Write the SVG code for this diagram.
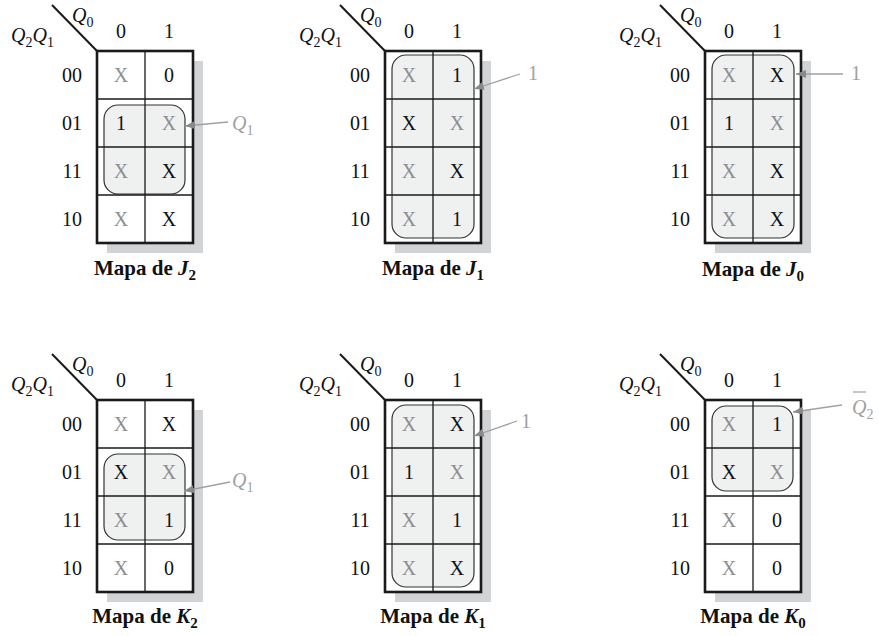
<svg xmlns="http://www.w3.org/2000/svg" width="879" height="636" viewBox="0 0 879 636">
<defs>
<style>
text{font-family:"Liberation Serif","Times New Roman",serif;}
.t{font-size:20px;fill:#111;}
.c{font-size:20px;text-anchor:middle;fill:#111;}
.g{fill:#8e8e8e;}
.i{font-style:italic;}
.title{font-size:21px;font-weight:bold;text-anchor:middle;fill:#111;}
.shadow{fill:#d2d3d5;}
.grid{fill:#fff;stroke:none;}
.border{fill:none;stroke:#1a1a1a;stroke-width:2.6;}
.line{stroke:#1a1a1a;stroke-width:1.3;fill:none;}
.diag{stroke:#1a1a1a;stroke-width:2;}
.loop{fill:#eff0f0;stroke:#333;stroke-width:1.2;}
.arr{stroke:#a0a0a0;stroke-width:1.3;fill:none;marker-end:url(#ah);}
.al{font-size:20px;fill:#a0a0a0;}
</style>
<marker id="ah" viewBox="0 0 10 8" refX="10" refY="4" markerWidth="10" markerHeight="8" markerUnits="userSpaceOnUse" orient="auto">
<path d="M0,0 L10,4 L0,8 Z" fill="#8a8a8a"/>
</marker>
<g id="frame">
<path class="diag" d="M-45,-46 L0,0"/>
<text class="t" x="-25" y="-29"><tspan class="i">Q</tspan><tspan dy="5" font-size="14">0</tspan></text>
<text class="t" x="-86" y="-9"><tspan class="i">Q</tspan><tspan dy="5" font-size="14">2</tspan><tspan dy="-5" class="i">Q</tspan><tspan dy="5" font-size="14">1</tspan></text>
<text class="c" x="24" y="-13">0</text>
<text class="c" x="72" y="-13">1</text>
<text class="c" x="-25" y="31">00</text>
<text class="c" x="-25" y="79">01</text>
<text class="c" x="-25" y="127">11</text>
<text class="c" x="-25" y="175">10</text>
</g>
<g id="back">
<rect class="shadow" x="10" y="10" width="96" height="192"/>
<rect class="grid" x="0" y="0" width="96" height="192"/>
</g>
<g id="lines">
<path class="line" d="M48,0 V192 M0,48 H96 M0,96 H96 M0,144 H96"/>
<rect class="border" x="0" y="0" width="96" height="192"/>
</g>
</defs>

<g id="map-J2" transform="translate(97,51)">
<use href="#back"/>
<rect class="loop" x="7" y="54" width="81" height="89" rx="14"/>
<use href="#lines"/>
<use href="#frame"/>
<text class="c g" x="24" y="31">X</text><text class="c" x="72" y="31">0</text>
<text class="c" x="24" y="79">1</text><text class="c g" x="72" y="79">X</text>
<text class="c g" x="24" y="127">X</text><text class="c" x="72" y="127">X</text>
<text class="c g" x="24" y="175">X</text><text class="c" x="72" y="175">X</text>
<text class="title" x="48" y="224">Mapa de <tspan class="i">J</tspan><tspan dy="5" font-size="15">2</tspan></text>
</g>

<g id="map-J1" transform="translate(385,51)">
<use href="#back"/>
<rect class="loop" x="7" y="4" width="82" height="183" rx="14"/>
<use href="#lines"/>
<use href="#frame"/>
<text class="c g" x="24" y="31">X</text><text class="c" x="72" y="31">1</text>
<text class="c" x="24" y="79">X</text><text class="c g" x="72" y="79">X</text>
<text class="c g" x="24" y="127">X</text><text class="c" x="72" y="127">X</text>
<text class="c g" x="24" y="175">X</text><text class="c" x="72" y="175">1</text>
<text class="title" x="48" y="224">Mapa de <tspan class="i">J</tspan><tspan dy="5" font-size="15">1</tspan></text>
</g>

<g id="map-J0" transform="translate(705,51)">
<use href="#back"/>
<rect class="loop" x="7" y="4" width="82" height="183" rx="14"/>
<use href="#lines"/>
<use href="#frame"/>
<text class="c g" x="24" y="31">X</text><text class="c" x="72" y="31">X</text>
<text class="c" x="24" y="79">1</text><text class="c g" x="72" y="79">X</text>
<text class="c g" x="24" y="127">X</text><text class="c" x="72" y="127">X</text>
<text class="c g" x="24" y="175">X</text><text class="c" x="72" y="175">X</text>
<text class="title" x="48" y="225">Mapa de <tspan class="i">J</tspan><tspan dy="5" font-size="15">0</tspan></text>
</g>

<g id="map-K2" transform="translate(97,400)">
<use href="#back"/>
<rect class="loop" x="7" y="54" width="81" height="86" rx="14"/>
<use href="#lines"/>
<use href="#frame"/>
<text class="c g" x="24" y="31">X</text><text class="c" x="72" y="31">X</text>
<text class="c" x="24" y="79">X</text><text class="c g" x="72" y="79">X</text>
<text class="c g" x="24" y="127">X</text><text class="c" x="72" y="127">1</text>
<text class="c g" x="24" y="175">X</text><text class="c" x="72" y="175">0</text>
<text class="title" x="48" y="223">Mapa de <tspan class="i">K</tspan><tspan dy="5" font-size="15">2</tspan></text>
</g>

<g id="map-K1" transform="translate(385,400)">
<use href="#back"/>
<rect class="loop" x="7" y="5" width="82" height="182" rx="14"/>
<use href="#lines"/>
<use href="#frame"/>
<text class="c g" x="24" y="31">X</text><text class="c" x="72" y="31">X</text>
<text class="c" x="24" y="79">1</text><text class="c g" x="72" y="79">X</text>
<text class="c g" x="24" y="127">X</text><text class="c" x="72" y="127">1</text>
<text class="c g" x="24" y="175">X</text><text class="c" x="72" y="175">X</text>
<text class="title" x="48" y="223">Mapa de <tspan class="i">K</tspan><tspan dy="5" font-size="15">1</tspan></text>
</g>

<g id="map-K0" transform="translate(705,400)">
<use href="#back"/>
<rect class="loop" x="7" y="6" width="81" height="85" rx="14"/>
<use href="#lines"/>
<use href="#frame"/>
<text class="c g" x="24" y="31">X</text><text class="c" x="72" y="31">1</text>
<text class="c" x="24" y="79">X</text><text class="c g" x="72" y="79">X</text>
<text class="c g" x="24" y="127">X</text><text class="c" x="72" y="127">0</text>
<text class="c g" x="24" y="175">X</text><text class="c" x="72" y="175">0</text>
<text class="title" x="48" y="223">Mapa de <tspan class="i">K</tspan><tspan dy="5" font-size="15">0</tspan></text>
</g>

<g id="connectors">
<path class="arr" d="M228,122 L185,126"/>
<path class="arr" d="M520,74 L474,89"/>
<path class="arr" d="M843,74 L796,74"/>
<path class="arr" d="M230,482 L184,491"/>
<path class="arr" d="M517,421 L474,436"/>
<path class="arr" d="M842,405 L793,412"/>
</g>

<g id="labels">
<text class="al" x="232" y="130"><tspan class="i">Q</tspan><tspan dy="5" font-size="14">1</tspan></text>
<text class="al" x="528" y="80">1</text>
<text class="al" x="851" y="80">1</text>
<text class="al" x="232" y="487"><tspan class="i">Q</tspan><tspan dy="5" font-size="14">1</tspan></text>
<text class="al" x="521" y="428">1</text>
<text class="al" x="852" y="414"><tspan class="i">Q</tspan><tspan dy="5" font-size="14">2</tspan></text>
<path d="M853,392 H866" stroke="#a0a0a0" stroke-width="1.2"/>
</g>
</svg>
